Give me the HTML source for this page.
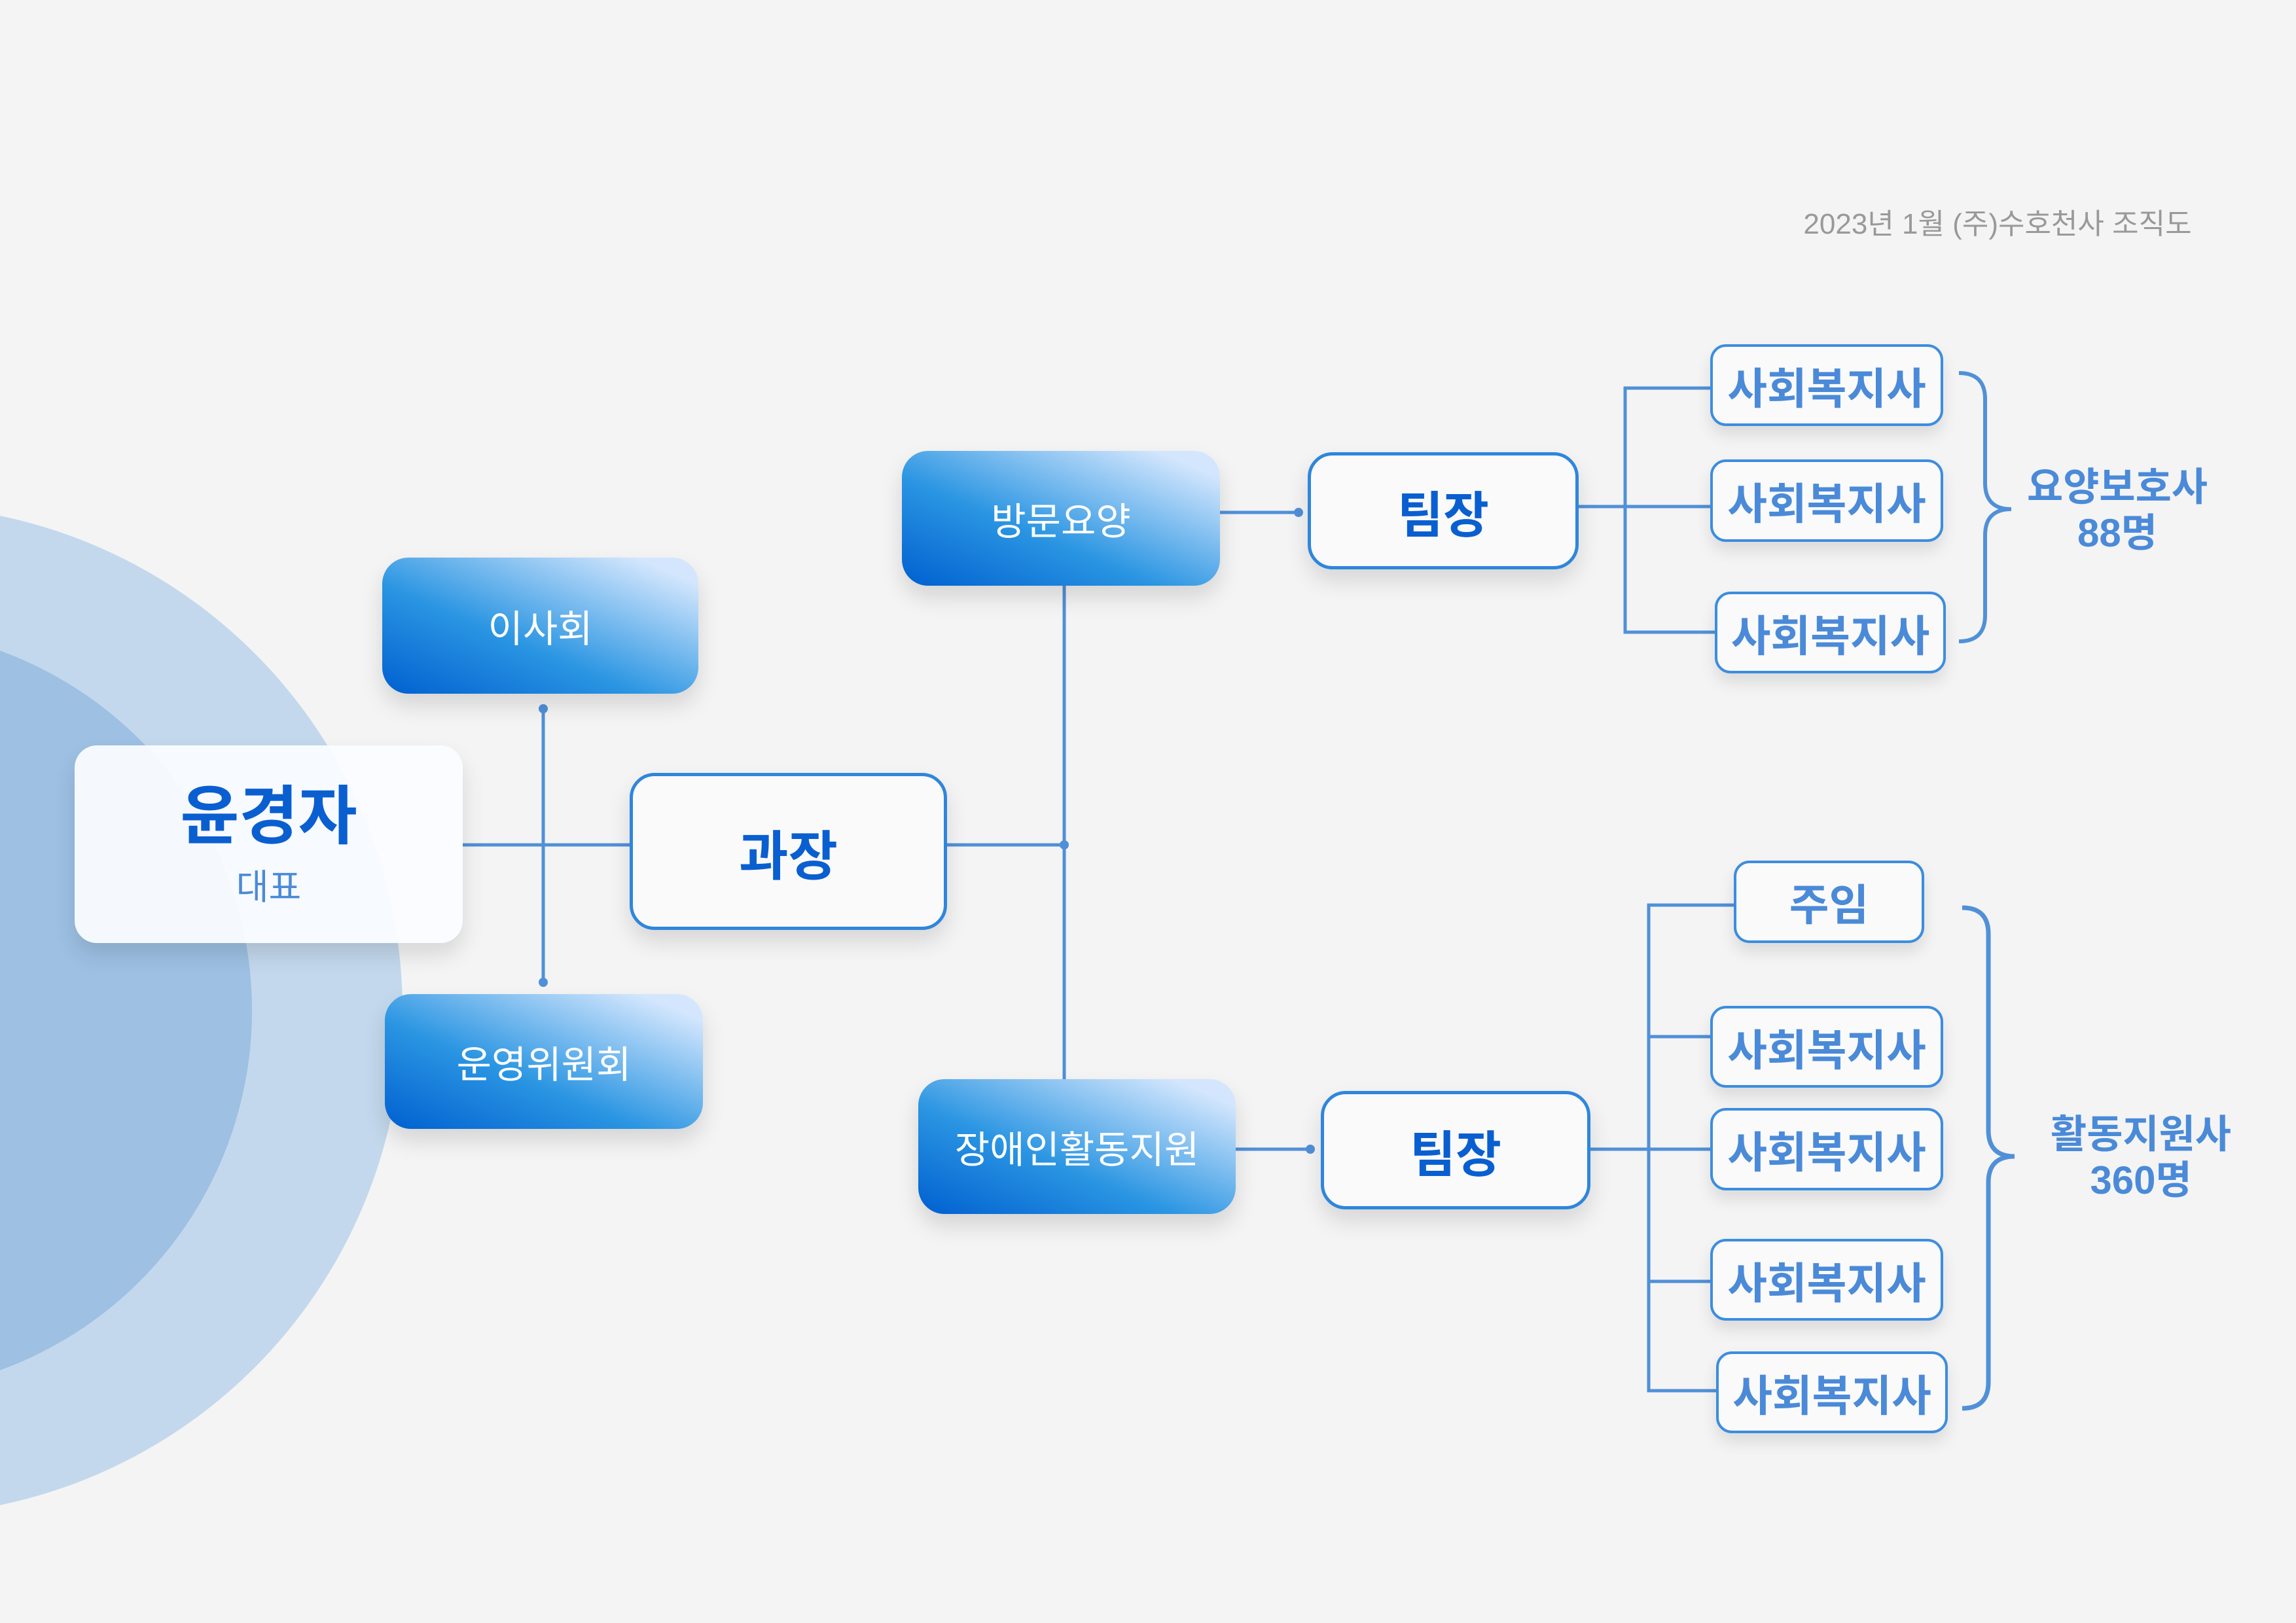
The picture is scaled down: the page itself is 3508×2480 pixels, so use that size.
<!DOCTYPE html>
<html><head><meta charset="utf-8"><style>
body{margin:0;width:3508px;height:2480px;background:#f4f4f4;position:relative;overflow:hidden;font-family:"Liberation Sans","Noto Sans CJK KR",sans-serif}
.b{position:absolute;box-sizing:border-box;display:flex;align-items:center;justify-content:center;flex-direction:column}
.g{background:linear-gradient(to top right,#0060d0 0%,#2a95e2 40%,#d3e6fd 90%);border-radius:40px;color:#fff;font-size:58px;box-shadow:0 18px 34px rgba(0,0,0,0.13)}
.w{background:#fafafa;border:5px solid #2f86dc;border-radius:38px;color:#0a5fd0;font-weight:bold;box-shadow:0 18px 34px rgba(0,0,0,0.12)}
.s{background:#fafafa;border:4px solid #3c8ddf;border-radius:24px;color:#4a8ad8;font-weight:bold;font-size:66px;box-shadow:0 14px 24px rgba(0,0,0,0.10)}
.lbl{position:absolute;color:#4a8ad8;font-weight:bold;font-size:60px;text-align:center;line-height:70px}
</style></head><body>
<svg width="3508" height="2480" style="position:absolute;left:0;top:0">
<circle cx="-157" cy="1544" r="772" fill="#c3d8ec"/>
<circle cx="-200" cy="1544" r="585" fill="#9dc0e3"/>
<g stroke="#5090d8" stroke-width="5" fill="none">
<line x1="707" y1="1291" x2="962" y2="1291"/>
<line x1="830" y1="1083" x2="830" y2="1501"/>
<line x1="1447" y1="1291" x2="1626" y2="1291"/>
<line x1="1626" y1="895" x2="1626" y2="1649"/>
<line x1="1864" y1="783" x2="1984" y2="783"/>
<line x1="1888" y1="1756" x2="2002" y2="1756"/>
<line x1="2412" y1="774" x2="2613" y2="774"/>
<polyline points="2613,593 2483,593 2483,966 2620,966"/>
<line x1="2430" y1="1756" x2="2613" y2="1756"/>
<polyline points="2649,1383 2519,1383 2519,2125 2622,2125"/>
<line x1="2519" y1="1584" x2="2613" y2="1584"/>
<line x1="2519" y1="1958" x2="2613" y2="1958"/>
<path d="M2993,570 q40,0 40,40 v128 q0,40 40,40 q-40,0 -40,40 v122 q0,40 -40,40" stroke-width="6"/>
<path d="M2998,1387 q40,0 40,40 v300 q0,40 40,40 q-40,0 -40,40 v305 q0,40 -40,40" stroke-width="7"/>
</g>
<g fill="#5090d8">
<circle cx="830" cy="1083" r="7"/><circle cx="830" cy="1501" r="7"/>
<circle cx="1626" cy="1291" r="7"/><circle cx="1984" cy="783" r="7"/><circle cx="2002" cy="1756" r="7"/>
</g>
</svg>
<div style="position:absolute;left:2752px;top:306px;width:600px;font-size:44px;color:#999;text-align:center">2023년 1월 (주)수호천사 조직도</div>
<div class="b" style="left:114px;top:1139px;width:593px;height:302px;background:rgba(250,252,255,0.95);border-radius:34px;box-shadow:0 18px 34px rgba(0,0,0,0.12)"><div style="font-size:98px;font-weight:bold;color:#0a5fd0;line-height:112px">윤경자</div><div style="font-size:54px;color:#4a8ad8;margin-top:8px">대표</div></div>
<div class="b g" style="left:584px;top:852px;width:483px;height:208px">이사회</div>
<div class="b g" style="left:588px;top:1519px;width:486px;height:206px">운영위원회</div>
<div class="b w" style="left:962px;top:1181px;width:485px;height:240px;font-size:82px">과장</div>
<div class="b g" style="left:1378px;top:689px;width:486px;height:206px">방문요양</div>
<div class="b g" style="left:1403px;top:1649px;width:485px;height:206px">장애인활동지원</div>
<div class="b w" style="left:1998px;top:691px;width:414px;height:179px;font-size:76px">팀장</div>
<div class="b w" style="left:2018px;top:1667px;width:412px;height:181px;font-size:76px">팀장</div>
<div class="b s" style="left:2613px;top:526px;width:356px;height:125px">사회복지사</div>
<div class="b s" style="left:2613px;top:702px;width:356px;height:126px">사회복지사</div>
<div class="b s" style="left:2620px;top:904px;width:353px;height:125px">사회복지사</div>
<div class="b s" style="left:2649px;top:1315px;width:291px;height:126px">주임</div>
<div class="b s" style="left:2613px;top:1537px;width:356px;height:125px">사회복지사</div>
<div class="b s" style="left:2613px;top:1693px;width:356px;height:126px">사회복지사</div>
<div class="b s" style="left:2613px;top:1893px;width:356px;height:125px">사회복지사</div>
<div class="b s" style="left:2622px;top:2065px;width:354px;height:125px">사회복지사</div>
<div class="lbl" style="left:3085px;top:710px;width:300px">요양보호사<br>88명</div>
<div class="lbl" style="left:3121px;top:1699px;width:300px">활동지원사<br>360명</div>
</body></html>
